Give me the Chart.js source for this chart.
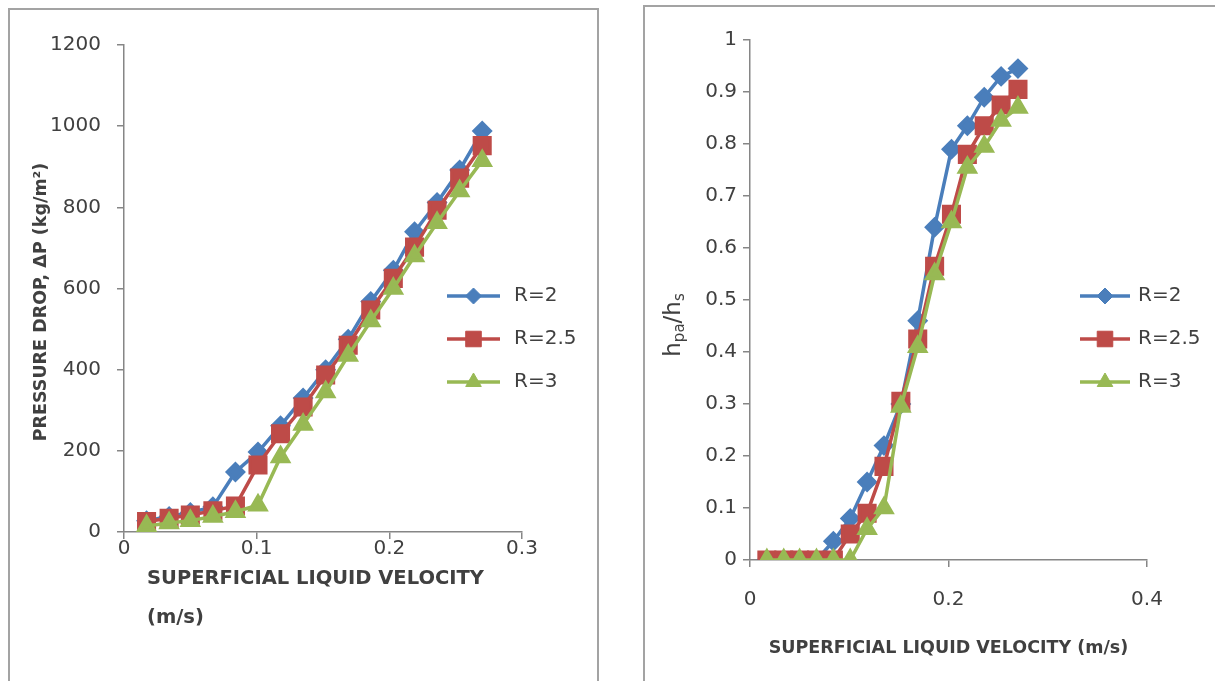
<!DOCTYPE html>
<html>
<head>
  <meta charset="utf-8" />
  <title>Pressure drop and holdup vs superficial liquid velocity</title>
  <style>
    body { margin: 0; background: #fff; width: 1215px; height: 681px; overflow: hidden; position: relative; }
    .frame { position: absolute; border: 2px solid #a3a3a3; box-sizing: border-box; }
    .box { position: absolute; top: 0; height: 681px; }
  </style>
</head>
<body>
<div class="frame" style="left:8px; top:8px; width:591px; height:700px;"></div>
<div class="frame" style="left:643px; top:5px; width:600px; height:700px;"></div>
<div class="box" style="left:0; width:600px;"><canvas id="dp"></canvas></div>
<div class="box" style="left:600px; width:615px;"><canvas id="hold"></canvas></div>

<script src="https://cdn.jsdelivr.net/npm/chart.js"></script>
<script>
  // shared x values (superficial liquid velocity, m/s)
  var velocity = [0.017, 0.034, 0.05, 0.067, 0.084, 0.101, 0.118, 0.135, 0.152, 0.169, 0.186, 0.203, 0.219, 0.236, 0.253, 0.27];

  // pressure drop, kg/m2
  var dpR2  = [28, 38, 48, 62, 148, 197, 262, 330, 400, 475, 568, 645, 740, 812, 892, 988];
  var dpR25 = [26, 34, 42, 52, 64, 165, 242, 308, 387, 460, 547, 625, 702, 793, 872, 952];
  var dpR3  = [15, 22, 28, 38, 50, 66, 185, 265, 345, 435, 520, 600, 680, 762, 840, 915];

  // holdup ratio hpa/hs
  var hR2  = [0, 0, 0, 0, 0.036, 0.08, 0.15, 0.22, 0.30, 0.46, 0.64, 0.79, 0.835, 0.89, 0.93, 0.945];
  var hR25 = [0, 0, 0, 0, 0, 0.05, 0.09, 0.18, 0.305, 0.425, 0.565, 0.665, 0.78, 0.835, 0.875, 0.905];
  var hR3  = [0, 0, 0, 0, 0, 0, 0.06, 0.10, 0.295, 0.41, 0.55, 0.65, 0.755, 0.795, 0.845, 0.87];

  var seriesLabels = ['R=2', 'R=2.5', 'R=3'];
  var dpTicks = { min: 0, max: 1200, step: 200 };
  var dpX = { min: 0, max: 0.3, step: 0.1 };
  var hTicks = { min: 0, max: 1, step: 0.1 };
  var hX = { min: 0, max: 0.4, step: 0.2 };

  Chart.defaults.font.family = 'DejaVu Sans';
  Chart.defaults.color = '#404040';

  var axisGrey = '#868686';
  var textGrey = '#404040';

  function pts(ys) {
    return ys.map(function(y, i) { return { x: velocity[i], y: y }; });
  }

  function makeSets(a, b, c) {
    return [
      { label: seriesLabels[0], data: pts(a), borderColor: '#4a7ebb', backgroundColor: '#4a7ebb',
        pointStyle: 'rectRot', pointRadius: 8, borderWidth: 3.5, order: 3 },
      { label: seriesLabels[1], data: pts(b), borderColor: '#be4b48', backgroundColor: '#be4b48',
        pointStyle: 'rect', pointRadius: 11, borderWidth: 3.5, order: 2 },
      { label: seriesLabels[2], data: pts(c), borderColor: '#98b954', backgroundColor: '#98b954',
        pointStyle: 'triangle', pointRadius: 9, borderWidth: 3.5, order: 1 }
    ];
  }

  function fmt(v) { return String(Math.round(v * 100) / 100); }

  // legend drawn inside the plot like the Excel original, plus axis titles placed by hand
  var decor = {
    id: 'decor',
    afterDraw: function(chart, args, o) {
      var ctx = chart.ctx;
      ctx.save();
      chart.data.datasets.forEach(function(ds, i) {
        var y = o.top + i * o.gap;
        ctx.strokeStyle = ds.borderColor;
        ctx.lineWidth = ds.borderWidth;
        ctx.beginPath();
        ctx.moveTo(o.x, y);
        ctx.lineTo(o.x + o.len, y);
        ctx.stroke();
        ctx.fillStyle = ds.backgroundColor;
        ctx.lineWidth = 1;
        Chart.helpers.drawPoint(ctx, { pointStyle: ds.pointStyle, radius: ds.pointRadius, rotation: 0, borderWidth: 1 },
          o.x + o.len / 2, y);
        ctx.fillStyle = textGrey;
        ctx.font = '20px "DejaVu Sans"';
        ctx.textBaseline = 'middle';
        ctx.textAlign = 'left';
        ctx.fillText(ds.label, o.textX, y);
      });
      ctx.fillStyle = textGrey;
      ctx.textBaseline = 'middle';
      ctx.textAlign = 'left';
      if (o.xTitle) {
        ctx.font = o.xTitle.font;
        o.xTitle.lines.forEach(function(t, i) {
          ctx.fillText(t, o.xTitle.x, o.xTitle.y + i * o.xTitle.gap);
        });
      }
      if (o.yTitle) {
        var yt = o.yTitle;
        ctx.save();
        ctx.translate(yt.x, yt.y);
        ctx.rotate(-Math.PI / 2);
        var w = 0;
        yt.parts.forEach(function(p) {
          ctx.font = p.sub ? yt.subFont : yt.font;
          w += ctx.measureText(p.t).width;
        });
        var cx = -w / 2;
        yt.parts.forEach(function(p) {
          ctx.font = p.sub ? yt.subFont : yt.font;
          ctx.fillText(p.t, cx, p.sub ? yt.subShift : 0);
          cx += ctx.measureText(p.t).width;
        });
        ctx.restore();
      }
      ctx.restore();
    }
  };

  function axis(opt) {
    return Object.assign({
      type: 'linear',
      border: { color: axisGrey, width: 1.5 },
      grid: { drawOnChartArea: false, drawTicks: true, tickLength: 7, color: axisGrey, lineWidth: 1.5 }
    }, opt);
  }

  // left chart: pressure drop
  new Chart(document.getElementById('dp'), {
    type: 'line',
    data: { datasets: makeSets(dpR2, dpR25, dpR3) },
    plugins: [decor],
    options: {
      responsive: true,
      maintainAspectRatio: false,
      animation: false,
      layout: { padding: { left: 0, top: 45, right: 78, bottom: 0 } },
      plugins: {
        legend: { display: false },
        tooltip: { enabled: false },
        decor: {
          x: 447, len: 53, textX: 514, top: 296, gap: 43,
          xTitle: { lines: ['SUPERFICIAL LIQUID VELOCITY', '(m/s)'], x: 147, y: 579, gap: 39,
                    font: 'bold 19.5px "DejaVu Sans"' },
          yTitle: { parts: [{ t: 'PRESSURE DROP, \u0394P (kg/m\u00b2)' }], x: 41, y: 302,
                    font: 'bold 17.5px "DejaVu Sans"' }
        }
      },
      scales: {
        x: axis({
          min: dpX.min, max: dpX.max,
          ticks: { stepSize: dpX.step, padding: -2, font: { size: 20 }, color: textGrey, callback: fmt, maxRotation: 0 },
          afterFit: function(s) { s.height = 149; s.paddingLeft = 0; s.paddingRight = 0; }
        }),
        y: axis({
          min: dpTicks.min, max: dpTicks.max,
          ticks: { stepSize: dpTicks.step, padding: 16, font: { size: 20 }, color: textGrey, callback: fmt },
          afterFit: function(s) { s.width = 124; s.paddingTop = 0; s.paddingBottom = 0; }
        })
      }
    }
  });

  // right chart: holdup ratio
  new Chart(document.getElementById('hold'), {
    type: 'line',
    data: { datasets: makeSets(hR2, hR25, hR3) },
    plugins: [decor],
    options: {
      responsive: true,
      maintainAspectRatio: false,
      animation: false,
      layout: { padding: { left: 0, top: 40, right: 68, bottom: 0 } },
      plugins: {
        legend: { display: false },
        tooltip: { enabled: false },
        decor: {
          x: 480, len: 50, textX: 538, top: 296, gap: 43,
          yTitle: { parts: [{ t: 'h' }, { t: 'pa', sub: true }, { t: '/h' }, { t: 's', sub: true }],
                    x: 74, y: 325, font: '23px "DejaVu Sans"', subFont: '15px "DejaVu Sans"', subShift: 6 }
        }
      },
      scales: {
        x: axis({
          min: hX.min, max: hX.max,
          ticks: { stepSize: hX.step, padding: 21, font: { size: 20 }, color: textGrey, callback: fmt, maxRotation: 0 },
          title: { display: true, text: 'SUPERFICIAL LIQUID VELOCITY (m/s)', color: textGrey,
                   font: { size: 17.5, weight: 'bold' }, padding: { top: 0, bottom: 22 } },
          afterFit: function(s) { s.height = 121; s.paddingLeft = 0; s.paddingRight = 0; }
        }),
        y: axis({
          min: hTicks.min, max: hTicks.max,
          ticks: { stepSize: hTicks.step, padding: 6, font: { size: 20 }, color: textGrey, callback: fmt },
          afterFit: function(s) { s.width = 150; s.paddingTop = 0; s.paddingBottom = 0; }
        })
      }
    }
  });
</script>
</body>
</html>
